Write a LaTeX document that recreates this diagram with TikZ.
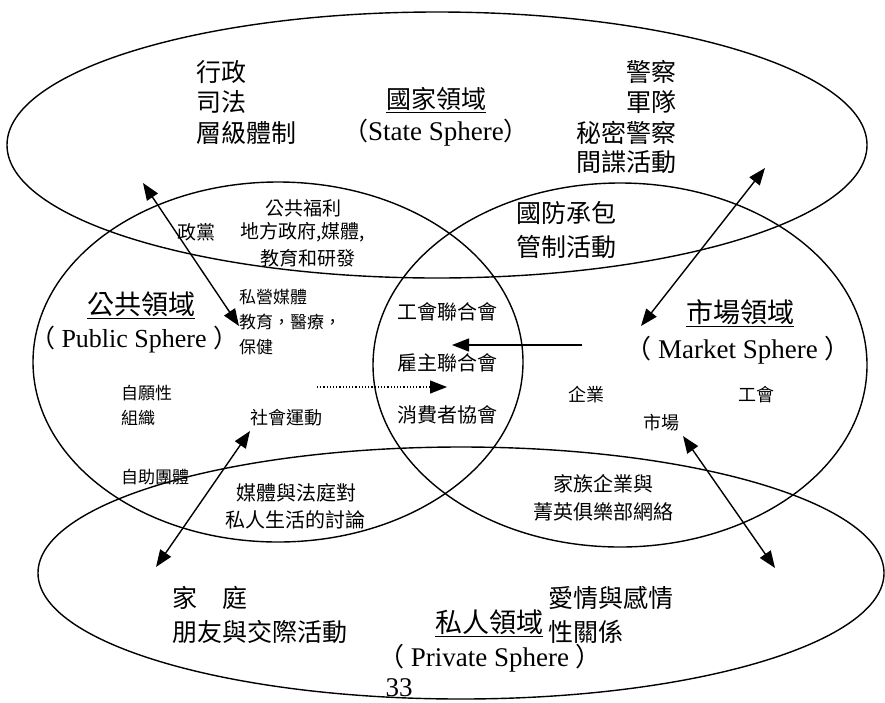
\documentclass[tikz,border=0pt]{standalone}
\usepackage{fontspec}
\setmainfont{Liberation Serif}
\newfontfamily\cjk{Noto Sans CJK TC}
\usetikzlibrary{arrows.meta}
\newcommand{\fsz}[1]{\fontsize{#1}{#1}\selectfont}
\newcommand{\rbr}{\makebox[0.45em][l]{）}}
\tikzset{
  sphere/.style={draw=black, line width=1.4pt},
  lbl/.style={inner sep=0pt, outer sep=0pt, font=\cjk\fsz{#1}},
  lbl/.default=20,
  tip/.tip={Triangle[length=17pt,width=13pt]},
  link/.style={line width=1.4pt, tip-tip},
  onelink/.style={line width=1.4pt, -tip},
  dotlink/.style={line width=1.2pt, dotted, -tip}
}
\begin{document}
\begin{tikzpicture}[x=1pt,y=-1pt]
\useasboundingbox (0,0) rectangle (885,702);
% spheres
\draw[sphere] (437,145) ellipse [x radius=430, y radius=133];
\draw[sphere] (278,362) ellipse [x radius=245, y radius=180];
\draw[sphere] (620,365) ellipse [x radius=247, y radius=182];
\draw[sphere] (461,573) ellipse [x radius=423, y radius=126];

% state sphere
\node[lbl=25, anchor=west] (s1) at (196,72) {行政};
\node[lbl=25, anchor=west] (s2) at (196,102) {司法};
\node[lbl=25, anchor=west] (s3) at (196,133) {層級體制};
\node[lbl=25] (stitle) at (436,100) {\underline{國家領域}};
\node[lbl=25] (ssub) at (436,133) {（{\rmfamily\fsz{27}State Sphere}）};
\node[lbl=25, anchor=east] (s4) at (676,72) {警察};
\node[lbl=25, anchor=east] (s5) at (676,102) {軍隊};
\node[lbl=25, anchor=east] (s6) at (676,133) {秘密警察};
\node[lbl=25, anchor=east] (s7) at (676,162) {間諜活動};

% state-public lens
\node[lbl=19] (sp1) at (303,208) {公共福利};
\node[lbl=19, anchor=west] (sp2) at (177,232) {政黨};
\node[lbl=19, anchor=west] (sp3) at (240,232) {地方政府,媒體,};
\node[lbl=19, anchor=west] (sp4) at (260,258) {教育和研發};

% state-market lens
\node[lbl=25, anchor=west] (sm1) at (516,213) {國防承包};
\node[lbl=25, anchor=west] (sm2) at (516,247) {管制活動};

% public sphere
\node[lbl=27] (ptitle) at (141,305) {\underline{公共領域}};
\node[lbl=25, anchor=west] (psub) at (30,340) {（{\rmfamily\fsz{26} Public Sphere }\rbr};
\node[lbl=17, anchor=west] (p1) at (239,297) {私營媒體};
\node[lbl=17, anchor=west] (p2) at (239,322) {教育，醫療，};
\node[lbl=17, anchor=west] (p3) at (239,347) {保健};
\node[lbl=17, anchor=west] (p4) at (121,393) {自願性};
\node[lbl=17, anchor=west] (p5) at (121,418) {組織};
\node[lbl=18, anchor=west] (p6) at (250,418) {社會運動};
\node[lbl=17, anchor=west] (p7) at (121,477) {自助團體};

% centre
\node[lbl=20] (c1) at (447,312) {工會聯合會};
\node[lbl=20] (c2) at (447,363) {雇主聯合會};
\node[lbl=20] (c3) at (447,415) {消費者協會};

% market sphere
\node[lbl=27] (mtitle) at (740,313) {\underline{市場領域}};
\node[lbl=26] (msub) at (738,350) {（{\rmfamily\fsz{27} Market Sphere }）};
\node[lbl=18, anchor=west] (m1) at (568,395) {企業};
\node[lbl=18, anchor=west] (m2) at (738,395) {工會};
\node[lbl=18, anchor=west] (m3) at (643,423) {市場};

% lower lenses
\node[lbl=20] (pp1) at (296,493) {媒體與法庭對};
\node[lbl=20] (pp2) at (295,520) {私人生活的討論};
\node[lbl=20] (mp1) at (603,484) {家族企業與};
\node[lbl=20] (mp2) at (603,512) {菁英俱樂部網絡};

% private sphere
\node[lbl=25, anchor=west] (r1) at (172,598) {家　庭};
\node[lbl=25, anchor=west] (r2) at (172,632) {朋友與交際活動};
\node[lbl=27, anchor=west] (rtitle) at (435,623) {\underline{私人領域}};
\node[lbl=25, anchor=west] (r3) at (548,598) {愛情與感情};
\node[lbl=25, anchor=west] (r4) at (548,632) {性關係};
\node[lbl=26] (rsub) at (490,658) {（{\rmfamily\fsz{27} Private Sphere }）};
\node[inner sep=0pt, font=\rmfamily\fsz{27}] (page) at (399,688) {33};

% connector end points
\coordinate (a1s) at (143,183);
\coordinate (a1e) at (239,326);
\coordinate (a2s) at (765,168);
\coordinate (a2e) at (641,326);
\coordinate (a3s) at (582,345);
\coordinate (a3e) at (452,345);
\coordinate (a4s) at (317,387);
\coordinate (a4e) at (447,387);
\coordinate (a5s) at (250,431);
\coordinate (a5e) at (156,567);
\coordinate (a6s) at (683,436);
\coordinate (a6e) at (775,568);

\draw[link] (a1s) -- (a1e);
\draw[link] (a2s) -- (a2e);
\draw[onelink] (a3s) -- (a3e);
\draw[dotlink] (a4s) -- (a4e);
\draw[link] (a5s) -- (a5e);
\draw[link] (a6s) -- (a6e);
\end{tikzpicture}
\end{document}
